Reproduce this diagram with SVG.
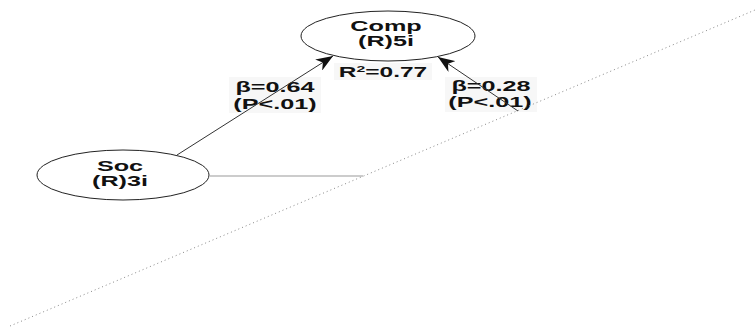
<svg xmlns="http://www.w3.org/2000/svg" width="755" height="328" viewBox="0 0 755 328">
<style>
.node{fill:#ffffff;stroke:#222;stroke-width:1}
.t{font-family:"Liberation Sans",Arial,sans-serif;font-weight:bold;font-size:14px;fill:#111;text-anchor:middle}
.box{fill:#f7f7f7;stroke:none}
.arrow{stroke:#333;stroke-width:1;fill:none}
.plain{stroke:#999;stroke-width:1;fill:none}
.dots{stroke:#888;stroke-width:1;stroke-dasharray:1 3;fill:none}
</style>
<defs>
<marker id="ah" viewBox="0 0 17 13" refX="17" refY="6.5" markerWidth="17" markerHeight="13" markerUnits="userSpaceOnUse" orient="auto">
<path d="M0,0 L17,6.5 L0,13 L5,6.5 Z" fill="#111"/>
</marker>
</defs>
<g id="labels">
<rect class="box" x="334" y="63" width="98" height="17"/>
<rect class="box" x="229" y="77" width="92" height="36"/>
<rect class="box" x="445" y="77" width="92" height="35"/>
<text class="t" transform="translate(383,77) scale(1.75,1)">R<tspan font-size="9" dy="-5">2</tspan><tspan dy="5">=0.77</tspan></text>
<text class="t" transform="translate(275,92) scale(1.8,1)">β=0.64</text>
<text class="t" transform="translate(275,109) scale(1.8,1)">(P&lt;.01)</text>
<text class="t" transform="translate(491,91) scale(1.8,1)">β=0.28</text>
<text class="t" transform="translate(490,107) scale(1.8,1)">(P&lt;.01)</text>
</g>
<g id="connectors">
<line class="dots" x1="10" y1="326" x2="755" y2="10"/>
<line class="plain" x1="210" y1="176" x2="363" y2="176"/>
<line class="arrow" x1="177" y1="155" x2="333" y2="56" marker-end="url(#ah)"/>
<line class="arrow" x1="518" y1="111" x2="438" y2="57" marker-end="url(#ah)"/>
</g>
<g id="comp">
<ellipse class="node" cx="388" cy="36" rx="87" ry="25"/>
<text class="t" transform="translate(386,31) scale(1.8,1)">Comp</text>
<text class="t" transform="translate(386,46) scale(1.8,1)">(R)5i</text>
</g>
<g id="soc">
<ellipse class="node" cx="123" cy="175" rx="86" ry="25"/>
<text class="t" transform="translate(120,171) scale(1.8,1)">Soc</text>
<text class="t" transform="translate(120,186) scale(1.8,1)">(R)3i</text>
</g>
</svg>
